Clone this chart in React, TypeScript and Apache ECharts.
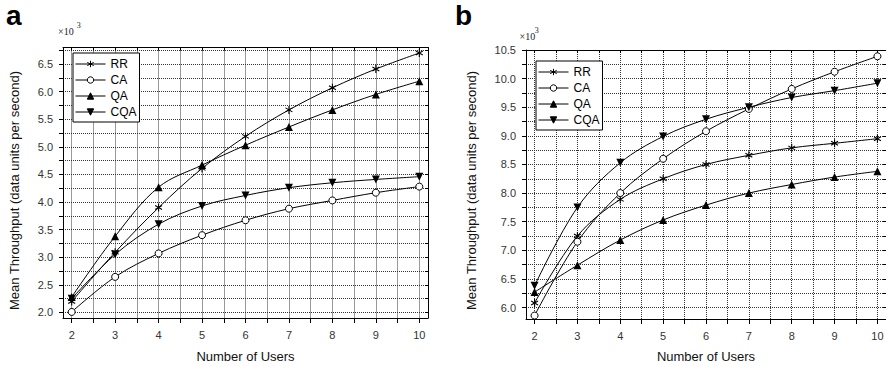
import React, { useEffect, useRef } from "react";
import * as echarts from "echarts";

// Number of users on the horizontal axis
const users = [2, 3, 4, 5, 6, 7, 8, 9, 10];
const seriesNames = ["RR", "CA", "QA", "CQA"];

// Panel a: mean throughput, in units of 10^3 data units per second
const rrA = [2.2, 3.09, 3.9, 4.61, 5.19, 5.67, 6.07, 6.41, 6.7];
const caA = [2.01, 2.645, 3.07, 3.4, 3.67, 3.88, 4.03, 4.17, 4.28];
const qaA = [2.28, 3.38, 4.27, 4.67, 5.03, 5.36, 5.67, 5.95, 6.19];
const cqaA = [2.25, 3.05, 3.6, 3.93, 4.12, 4.26, 4.35, 4.41, 4.46];

// Panel b: mean throughput, in units of 10^3 data units per second
const rrB = [6.08, 7.25, 7.89, 8.25, 8.5, 8.66, 8.79, 8.87, 8.95];
const caB = [5.86, 7.15, 8.0, 8.6, 9.08, 9.47, 9.82, 10.12, 10.39];
const qaB = [6.27, 6.74, 7.18, 7.53, 7.79, 8.0, 8.15, 8.28, 8.38];
const cqaB = [6.38, 7.75, 8.53, 8.99, 9.29, 9.5, 9.67, 9.79, 9.92];

// Tick positions and labels
const xTicks = [2, 2.5, 3, 3.5, 4, 4.5, 5, 5.5, 6, 6.5, 7, 7.5, 8, 8.5, 9, 9.5, 10];
const xLabels = [2, 3, 4, 5, 6, 7, 8, 9, 10];
const yTicksA = [2, 2.25, 2.5, 2.75, 3, 3.25, 3.5, 3.75, 4, 4.25, 4.5, 4.75, 5, 5.25, 5.5, 5.75, 6, 6.25, 6.5, 6.75];
const yLabelsA = [2, 2.5, 3, 3.5, 4, 4.5, 5, 5.5, 6, 6.5];
const yTicksB = [6, 6.25, 6.5, 6.75, 7, 7.25, 7.5, 7.75, 8, 8.25, 8.5, 8.75, 9, 9.25, 9.5, 9.75, 10, 10.25, 10.5];
const yLabelsB = [6, 6.5, 7, 7.5, 8, 8.5, 9, 9.5, 10, 10.5];

const xRange = [1.8, 10.2];
const yRangeA = [1.9, 6.8];
const yRangeB = [5.8, 10.5];

const SANS = "'Liberation Sans', Arial, Helvetica, sans-serif";
const SERIF = "'Liberation Serif', 'Times New Roman', serif";

// six-armed asterisk drawn as stroked segments
const ASTERISK = "path://M0,-10L0,10M-8.66,-5L8.66,5M-8.66,5L8.66,-5";

const markerStyles: Record<string, any> = {
  RR: {
    symbol: ASTERISK,
    symbolSize: 8,
    symbolKeepAspect: true,
    itemStyle: { color: "#000", borderColor: "#000", borderWidth: 1.1 },
  },
  CA: {
    symbol: "circle",
    symbolSize: 7,
    itemStyle: { color: "#fff", borderColor: "#000", borderWidth: 1 },
  },
  QA: {
    symbol: "triangle",
    symbolSize: 8,
    itemStyle: { color: "#000", borderColor: "#000", borderWidth: 0 },
  },
  CQA: {
    symbol: "triangle",
    symbolRotate: 180,
    symbolSize: 8,
    itemStyle: { color: "#000", borderColor: "#000", borderWidth: 0 },
  },
};

function makeSeries(name: string, values: number[], axisIndex: number) {
  return {
    type: "line",
    name,
    xAxisIndex: axisIndex,
    yAxisIndex: axisIndex,
    data: users.map((u, i) => [u, values[i]]),
    smooth: 0.35,
    showSymbol: true,
    lineStyle: { color: "#000", width: 1 },
    emphasis: { disabled: true },
    ...markerStyles[name],
  };
}

const gridLine = { color: "#333", width: 1, type: [1, 1] };

function xAxesFor(gridIndex: number) {
  const common = {
    type: "value",
    gridIndex,
    min: xRange[0],
    max: xRange[1],
    minInterval: 0.5,
    maxInterval: 0.5,
    axisLine: { show: true, onZero: false, lineStyle: { color: "#000", width: 1 } },
  };
  return [
    {
      ...common,
      position: "bottom",
      axisTick: { show: true, inside: false, length: 5, customValues: xTicks, lineStyle: { color: "#000" } },
      axisLabel: {
        show: true,
        customValues: xLabels,
        margin: 11,
        fontSize: 11,
        color: "#333",
        fontFamily: SANS,
        formatter: (v: number) => String(v),
      },
      splitLine: { show: true, lineStyle: gridLine },
    },
    {
      ...common,
      position: "top",
      axisTick: { show: true, inside: true, length: 3, customValues: xTicks, lineStyle: { color: "#000" } },
      axisLabel: { show: false },
      splitLine: { show: false },
    },
  ];
}

function yAxesFor(gridIndex: number, range: number[], ticks: number[], labels: number[]) {
  const common = {
    type: "value",
    gridIndex,
    min: range[0],
    max: range[1],
    minInterval: 0.25,
    maxInterval: 0.25,
    axisLine: { show: true, onZero: false, lineStyle: { color: "#000", width: 1 } },
  };
  return [
    {
      ...common,
      position: "left",
      axisTick: { show: true, inside: false, length: 4, customValues: ticks, lineStyle: { color: "#000" } },
      axisLabel: {
        show: true,
        customValues: labels,
        margin: 10,
        fontSize: 11,
        color: "#333",
        fontFamily: SANS,
        formatter: (v: number) => v.toFixed(1),
      },
      splitLine: { show: true, lineStyle: gridLine },
    },
    {
      ...common,
      position: "right",
      axisTick: { show: true, inside: true, length: 3, customValues: ticks, lineStyle: { color: "#000" } },
      axisLabel: { show: false },
      splitLine: { show: false },
    },
  ];
}

function legendAt(left: number, top: number) {
  return {
    data: seriesNames,
    orient: "vertical",
    left,
    top,
    itemWidth: 30,
    itemHeight: 8,
    itemGap: 0,
    padding: [3, 3, 2, 2],
    borderColor: "#000",
    borderWidth: 1,
    borderRadius: 0,
    backgroundColor: "#fff",
    selectedMode: false,
    lineStyle: { width: 1 },
    itemStyle: { borderWidth: 1 },
    textStyle: { fontSize: 12, color: "#000", fontFamily: SANS, lineHeight: 16 },
  };
}

function text(x: number, y: number, t: string, style: any, extra: any = {}) {
  return {
    type: "text",
    x,
    y,
    silent: true,
    ...extra,
    style: { text: t, fill: "#000", fontFamily: SANS, ...style },
  };
}

export default function App() {
  const ref = useRef<HTMLDivElement>(null);

  useEffect(() => {
    if (!ref.current) return;
    const chart = echarts.init(ref.current, undefined, { renderer: "svg" });

    const xAxes = [...xAxesFor(0), ...xAxesFor(1)];
    const yAxes = [
      ...yAxesFor(0, yRangeA, yTicksA, yLabelsA),
      ...yAxesFor(1, yRangeB, yTicksB, yLabelsB),
    ];
    // axis indices: 0 = panel a (bottom/left), 2 = panel b (bottom/left)
    const seriesA = [rrA, caA, qaA, cqaA].map((v, i) => makeSeries(seriesNames[i], v, 0));
    const seriesB = [rrB, caB, qaB, cqaB].map((v, i) => makeSeries(seriesNames[i], v, 2));

    chart.setOption({
      animation: false,
      backgroundColor: "#fff",
      grid: [
        { left: 63, top: 47.5, width: 365, height: 270.5, containLabel: false, outerBoundsMode: "none" },
        { left: 526, top: 50, width: 360, height: 269, containLabel: false, outerBoundsMode: "none" },
      ],
      xAxis: xAxes,
      yAxis: yAxes,
      legend: [legendAt(73, 53), legendAt(536, 61)],
      series: [...seriesA, ...seriesB],
      graphic: [
        text(6, 15.5, "a", { fontSize: 28, fontWeight: "bold", verticalAlign: "middle" }),
        text(455, 15.5, "b", { fontSize: 28, fontWeight: "bold", verticalAlign: "middle" }),
        text(58, 31.7, "×10", { fontSize: 10, fontFamily: SERIF, verticalAlign: "middle", fill: "#222" }),
        text(76.8, 25.5, "3", { fontSize: 8, fontFamily: SERIF, verticalAlign: "middle", fill: "#222" }),
        text(519.5, 36.7, "×10", { fontSize: 10, fontFamily: SERIF, verticalAlign: "middle", fill: "#222" }),
        text(534.8, 30.3, "3", { fontSize: 8, fontFamily: SERIF, verticalAlign: "middle", fill: "#222" }),
        text(14, 190.5, "Mean Throughput (data units per second)",
          { fontSize: 13, align: "center", verticalAlign: "middle", fill: "#111" },
          { rotation: Math.PI / 2 }),
        text(471.5, 190.5, "Mean Throughput (data units per second)",
          { fontSize: 13, align: "center", verticalAlign: "middle", fill: "#111" },
          { rotation: Math.PI / 2 }),
        text(245.5, 356.5, "Number of Users",
          { fontSize: 13, align: "center", verticalAlign: "middle", fill: "#111" }),
        text(706, 356.5, "Number of Users",
          { fontSize: 13, align: "center", verticalAlign: "middle", fill: "#111" }),
      ],
    });

    return () => chart.dispose();
  }, []);

  return (
    <div
      ref={ref}
      style={{ position: "absolute", left: 0, top: 0, width: 886, height: 366 }}
    />
  );
}
